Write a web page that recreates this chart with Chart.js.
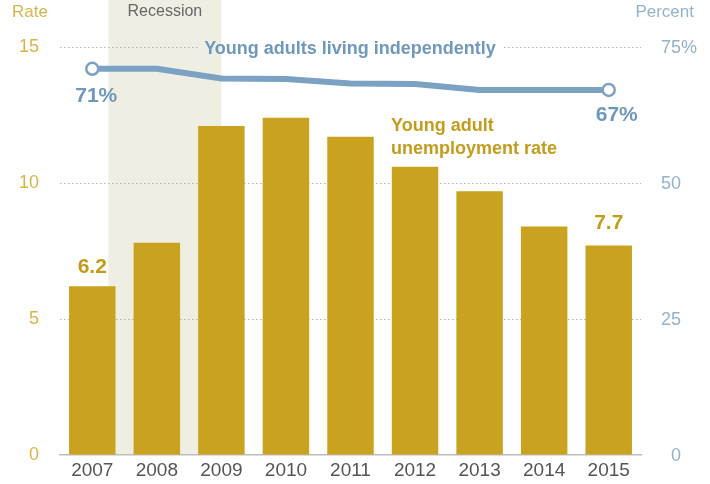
<!doctype html>
<html>
<head>
<meta charset="utf-8">
<script src="https://cdn.jsdelivr.net/npm/chart.js@4"></script>
<style>
  body { margin: 0; background: #fff; overflow: hidden; }
  canvas { display: block; }
</style>
</head>
<body>
<canvas id="chart" width="710" height="484"></canvas>
<script>
const years = ['2007', '2008', '2009', '2010', '2011', '2012', '2013', '2014', '2015'];
const unemploymentRate = [6.2, 7.8, 12.1, 12.4, 11.7, 10.6, 9.7, 8.4, 7.7];
const livingIndependently = [71.0, 71.0, 69.2, 69.1, 68.3, 68.2, 67.1, 67.1, 67.1];
const rateTicks = [0, 5, 10, 15];
const percentTicks = [0, 25, 50, 75];
// recession span in category units (Dec 2007 .. mid 2009)
const recessionSpan = [0.25, 2.0];

const FONT = "'Liberation Sans', Arial, sans-serif";
const GOLD = '#c9a21f';
const GOLD_TEXT = '#c49c1c';
const GOLD_TICK = '#d7b54b';
const BLUE = '#7ba1c3';
const BLUE_TEXT = '#6f98bd';
const BLUE_TICK = '#93b3cc';
const SHADE = '#eeeee3';

const last = livingIndependently.length - 1;

// recession band behind everything
const shading = {
  id: 'shading',
  beforeDraw(chart) {
    const {ctx, scales: {x}, chartArea} = chart;
    const x0 = x.getPixelForValue(recessionSpan[0]);
    const x1 = x.getPixelForValue(recessionSpan[1]);
    ctx.save();
    ctx.fillStyle = SHADE;
    ctx.fillRect(x0, 0, x1 - x0, chartArea.bottom);
    ctx.fillStyle = '#666';
    ctx.font = '16px ' + FONT;
    ctx.textAlign = 'center';
    ctx.textBaseline = 'middle';
    ctx.fillText('Great', (x0 + x1) / 2, -4);
    ctx.fillText('Recession', (x0 + x1) / 2, 12);
    ctx.restore();
  }
};

const annotations = {
  id: 'annotations',
  afterDraw(chart) {
    const {ctx, scales: {x, yRate, yPct}} = chart;
    ctx.save();

    // axis titles
    ctx.textBaseline = 'middle';
    ctx.font = '17px ' + FONT;
    ctx.fillStyle = GOLD_TICK;
    ctx.textAlign = 'left';
    ctx.fillText('Rate', 12, 12);
    ctx.fillStyle = BLUE_TICK;
    ctx.textAlign = 'right';
    ctx.fillText('Percent', 694, 12);

    // right axis labels, percent sign hanging
    ctx.font = '18px ' + FONT;
    percentTicks.forEach(v => {
      const y = yPct.getPixelForValue(v) + 1;
      ctx.textAlign = 'right';
      ctx.fillText(String(v), 681, y);
      if (v === 75) {
        ctx.textAlign = 'left';
        ctx.fillText('%', 681, y);
      }
    });

    // line title, blanking the top gridline behind it
    const ty = yRate.getPixelForValue(15);
    const bx0 = 199, bx1 = 504;
    ctx.fillStyle = '#fff';
    ctx.fillRect(bx0, ty - 4, bx1 - bx0, 8);
    const sx1 = x.getPixelForValue(recessionSpan[1]);
    if (sx1 > bx0) {
      ctx.fillStyle = SHADE;
      ctx.fillRect(bx0, ty - 4, Math.min(sx1, bx1) - bx0, 8);
    }
    ctx.font = 'bold 18px ' + FONT;
    ctx.fillStyle = BLUE_TEXT;
    ctx.textAlign = 'center';
    ctx.fillText('Young adults living independently', 350, ty + 2);

    // end labels for the line
    ctx.font = 'bold 21px ' + FONT;
    const p0 = yPct.getPixelForValue(livingIndependently[0]);
    const p1 = yPct.getPixelForValue(livingIndependently[last]);
    ctx.fillText(Math.round(livingIndependently[0]) + '%', x.getPixelForValue(0) + 4, p0 + 27);
    ctx.fillText(Math.round(livingIndependently[last]) + '%', x.getPixelForValue(last) + 8, p1 + 25);

    // bar end labels
    ctx.fillStyle = GOLD_TEXT;
    const b0 = yRate.getPixelForValue(unemploymentRate[0]);
    const b1 = yRate.getPixelForValue(unemploymentRate[last]);
    ctx.fillText(unemploymentRate[0].toFixed(1), x.getPixelForValue(0), b0 - 19);
    ctx.fillText(unemploymentRate[last].toFixed(1), x.getPixelForValue(last), b1 - 22);

    // bar series title
    ctx.font = 'bold 18px ' + FONT;
    ctx.textAlign = 'left';
    ctx.fillText('Young adult', 391, 126);
    ctx.fillText('unemployment rate', 391, 149);

    ctx.restore();
  }
};

const ctx = document.getElementById('chart').getContext('2d');
const chart = new Chart(ctx, {
  data: {
    labels: years,
    datasets: [{
      type: 'line',
      label: 'Young adults living independently',
      data: livingIndependently,
      yAxisID: 'yPct',
      borderColor: BLUE,
      borderWidth: 6,
      tension: 0,
      pointRadius: livingIndependently.map((v, i) => (i === 0 || i === last) ? 6 : 0),
      pointBackgroundColor: '#fff',
      pointBorderColor: BLUE,
      pointBorderWidth: 2.5,
      order: 0
    }, {
      type: 'bar',
      label: 'Young adult unemployment rate',
      data: unemploymentRate,
      yAxisID: 'yRate',
      backgroundColor: GOLD,
      barPercentage: 0.72,
      categoryPercentage: 1,
      order: 1
    }]
  },
  options: {
    responsive: false,
    animation: false,
    layout: { autoPadding: false, padding: { top: 47, left: 0, right: 0, bottom: 0 } },
    plugins: { legend: { display: false }, tooltip: { enabled: false } },
    scales: {
      x: {
        grid: { display: false, drawTicks: false },
        border: { display: true, color: '#bdbdbd', width: 1.5 },
        ticks: { color: '#555', font: { size: 19, family: FONT }, padding: 4 },
        afterFit: s => { s.height = 29; }
      },
      yRate: {
        position: 'left',
        min: 0, max: 15,
        afterBuildTicks: s => { s.ticks = rateTicks.map(v => ({ value: v })); },
        ticks: { color: GOLD_TICK, font: { size: 18, family: FONT, lineHeight: 0.6 }, padding: 21 },
        grid: {
          drawTicks: false,
          color: c => c.tick.value === 0 ? 'rgba(0,0,0,0)' : '#b3b3b3',
          lineWidth: 1
        },
        border: { display: false, dash: [1.5, 2.5] },
        afterFit: s => { s.width = 60; }
      },
      yPct: {
        position: 'right',
        min: 0, max: 75,
        afterBuildTicks: s => { s.ticks = percentTicks.map(v => ({ value: v })); },
        ticks: { display: false },
        grid: { display: false },
        border: { display: false },
        afterFit: s => { s.width = 69; }
      }
    }
  },
  plugins: [shading, annotations]
});
</script>
</body>
</html>
